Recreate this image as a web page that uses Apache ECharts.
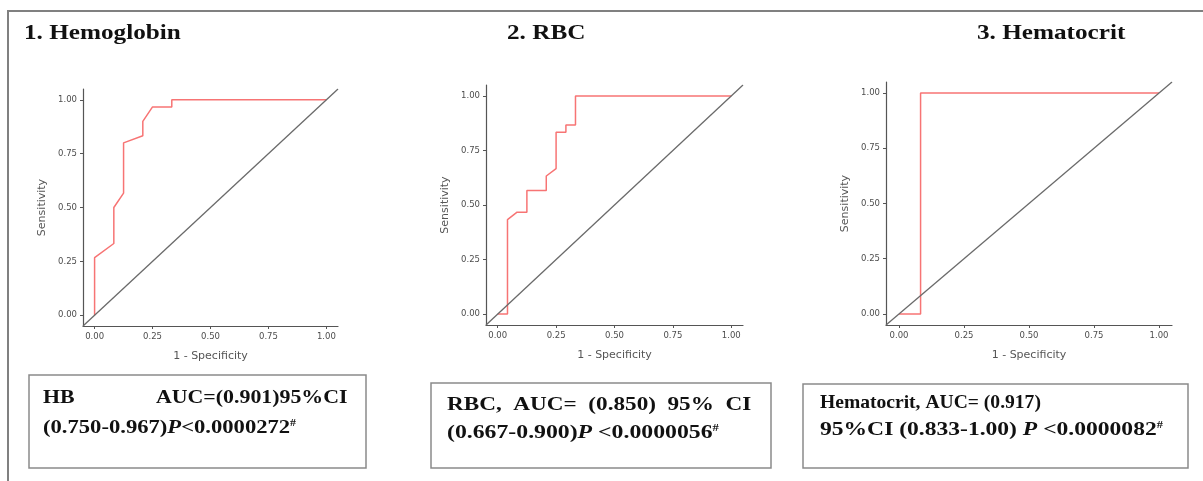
<!DOCTYPE html>
<html><head><meta charset="utf-8">
<script src="https://cdn.jsdelivr.net/npm/echarts@6/dist/echarts.min.js"></script>
<style>html,body{margin:0;padding:0;background:#fff}#c{width:1203px;height:481px}</style>
</head><body><div id="c"></div>
<script>
// ---- data ----
const titles = ['1. Hemoglobin', '2. RBC', '3. Hematocrit'];
const hbFpr  = [0, 0, 0.083, 0.083, 0.125, 0.125, 0.208, 0.208, 0.25, 0.333, 0.333, 1];
const hbTpr  = [0, 0.267, 0.333, 0.5, 0.567, 0.8, 0.833, 0.9, 0.967, 0.967, 1, 1];
const rbcFpr = [0, 0.042, 0.042, 0.083, 0.125, 0.125, 0.208, 0.208, 0.25, 0.25, 0.292, 0.292, 0.333, 0.333, 1];
const rbcTpr = [0, 0, 0.433, 0.467, 0.467, 0.567, 0.567, 0.633, 0.667, 0.833, 0.833, 0.867, 0.867, 1, 1];
const hctFpr = [0, 0.083, 0.083, 1];
const hctTpr = [0, 0, 1, 1];
const tickValues = [0, 0.25, 0.5, 0.75, 1];
const axisRange = [-0.05, 1.05];
const xName = '1 - Specificity';
const yName = 'Sensitivity';
const box1 = ['HB', 'AUC=(0.901)95%CI', '(0.750-0.967)', 'P', '<0.0000272', '#'];
const box2 = ['RBC,  AUC=  (0.850)  95%  CI', '(0.667-0.900)', 'P', ' <0.0000056', '#'];
const box3 = ['Hematocrit, AUC= (0.917)', '95%CI (0.833-1.00) ', 'P', ' <0.0000082', '#'];

// ---- layout ----
const curves = [[hbFpr, hbTpr], [rbcFpr, rbcTpr], [hctFpr, hctTpr]];
const grids = [
  {left: 83, top: 89, width: 255, height: 237},
  {left: 486, top: 85, width: 257, height: 240},
  {left: 886, top: 82, width: 286, height: 243}
];
const axisColor = '#4d4d4d';
const xAxes = [], yAxes = [], series = [];
grids.forEach((g, i) => {
  const common = {
    type: 'value', gridIndex: i, min: axisRange[0], max: axisRange[1],
    axisLine: {show: true, onZero: false, lineStyle: {color: '#555', width: 1.2}},
    axisTick: {show: true, customValues: tickValues, length: 3, lineStyle: {color: '#555', width: 1}},
    axisLabel: {customValues: tickValues, formatter: v => v.toFixed(2), fontSize: 8.5,
                fontFamily: 'DejaVu Sans', color: axisColor, margin: 6},
    splitLine: {show: false},
    nameLocation: 'middle',
    nameTextStyle: {fontSize: 11, fontFamily: 'DejaVu Sans', color: '#555'}
  };
  xAxes.push(Object.assign({}, common, {name: xName, nameGap: 25}));
  yAxes.push(Object.assign({}, common, {name: yName, nameGap: 35}));
  const [fx, fy] = curves[i];
  series.push({
    type: 'line', xAxisIndex: i, yAxisIndex: i, showSymbol: false, silent: true,
    data: fx.map((v, k) => [v, fy[k]]),
    lineStyle: {color: '#f77474', width: 1.5}, z: 2
  });
  series.push({
    type: 'line', xAxisIndex: i, yAxisIndex: i, showSymbol: false, silent: true,
    data: [[axisRange[0], axisRange[0]], [axisRange[1], axisRange[1]]],
    lineStyle: {color: '#6a6a6a', width: 1.3}, z: 3
  });
});

const serif = 'Liberation Serif';
const rich = {
  b: {fontFamily: serif, fontWeight: 'bold', fontSize: 19, fill: '#111'},
  i: {fontFamily: serif, fontWeight: 'bold', fontStyle: 'italic', fontSize: 19, fill: '#111'},
  s: {fontFamily: serif, fontWeight: 'bold', fontSize: 10, fill: '#111', verticalAlign: 'top'}
};
function txt(x, y, text, sx) {
  return {type: 'text', x: x, y: y, scaleX: sx, silent: true,
          style: {text: text, rich: rich, verticalAlign: 'middle', align: 'left'}};
}
function title(x, text) {
  return {type: 'text', x: x, y: 34, scaleX: 1.2, silent: true,
          style: {text: text, fontFamily: serif, fontWeight: 'bold', fontSize: 21, fill: '#111',
                  verticalAlign: 'middle', align: 'left'}};
}
function box(x, y, w, h) {
  return {type: 'rect', shape: {x: x, y: y, width: w, height: h}, silent: true,
          style: {fill: '#fff', stroke: '#8a8a8a', lineWidth: 1.5}};
}
const graphic = [
  {type: 'rect', shape: {x: 8, y: 11, width: 1400, height: 700}, silent: true,
   style: {fill: 'none', stroke: '#808080', lineWidth: 2}},
  title(24, titles[0]), title(507, titles[1]), title(977, titles[2]),
  box(29, 375, 337, 93), box(431, 383, 340, 85), box(803, 384, 385, 84),
  txt(43, 398, '{b|' + box1[0] + '}', 1.15),
  txt(156, 398, '{b|' + box1[1] + '}', 1.15),
  txt(43, 428, '{b|' + box1[2] + '}{i|' + box1[3] + '}{b|' + box1[4] + '}{s|' + box1[5] + '}', 1.19),
  txt(447, 405, '{b|' + box2[0] + '}', 1.22),
  txt(447, 433, '{b|' + box2[1] + '}{i|' + box2[2] + '}{b|' + box2[3] + '}{s|' + box2[4] + '}', 1.25),
  txt(820, 403, '{b|' + box3[0] + '}', 1.03),
  txt(820, 430, '{b|' + box3[1] + '}{i|' + box3[2] + '}{b|' + box3[3] + '}{s|' + box3[4] + '}', 1.24)
];

const chart = echarts.init(document.getElementById('c'));
chart.setOption({
  animation: false,
  backgroundColor: '#fff',
  grid: grids,
  xAxis: xAxes,
  yAxis: yAxes,
  series: series,
  graphic: graphic
});
</script>
</body></html>
